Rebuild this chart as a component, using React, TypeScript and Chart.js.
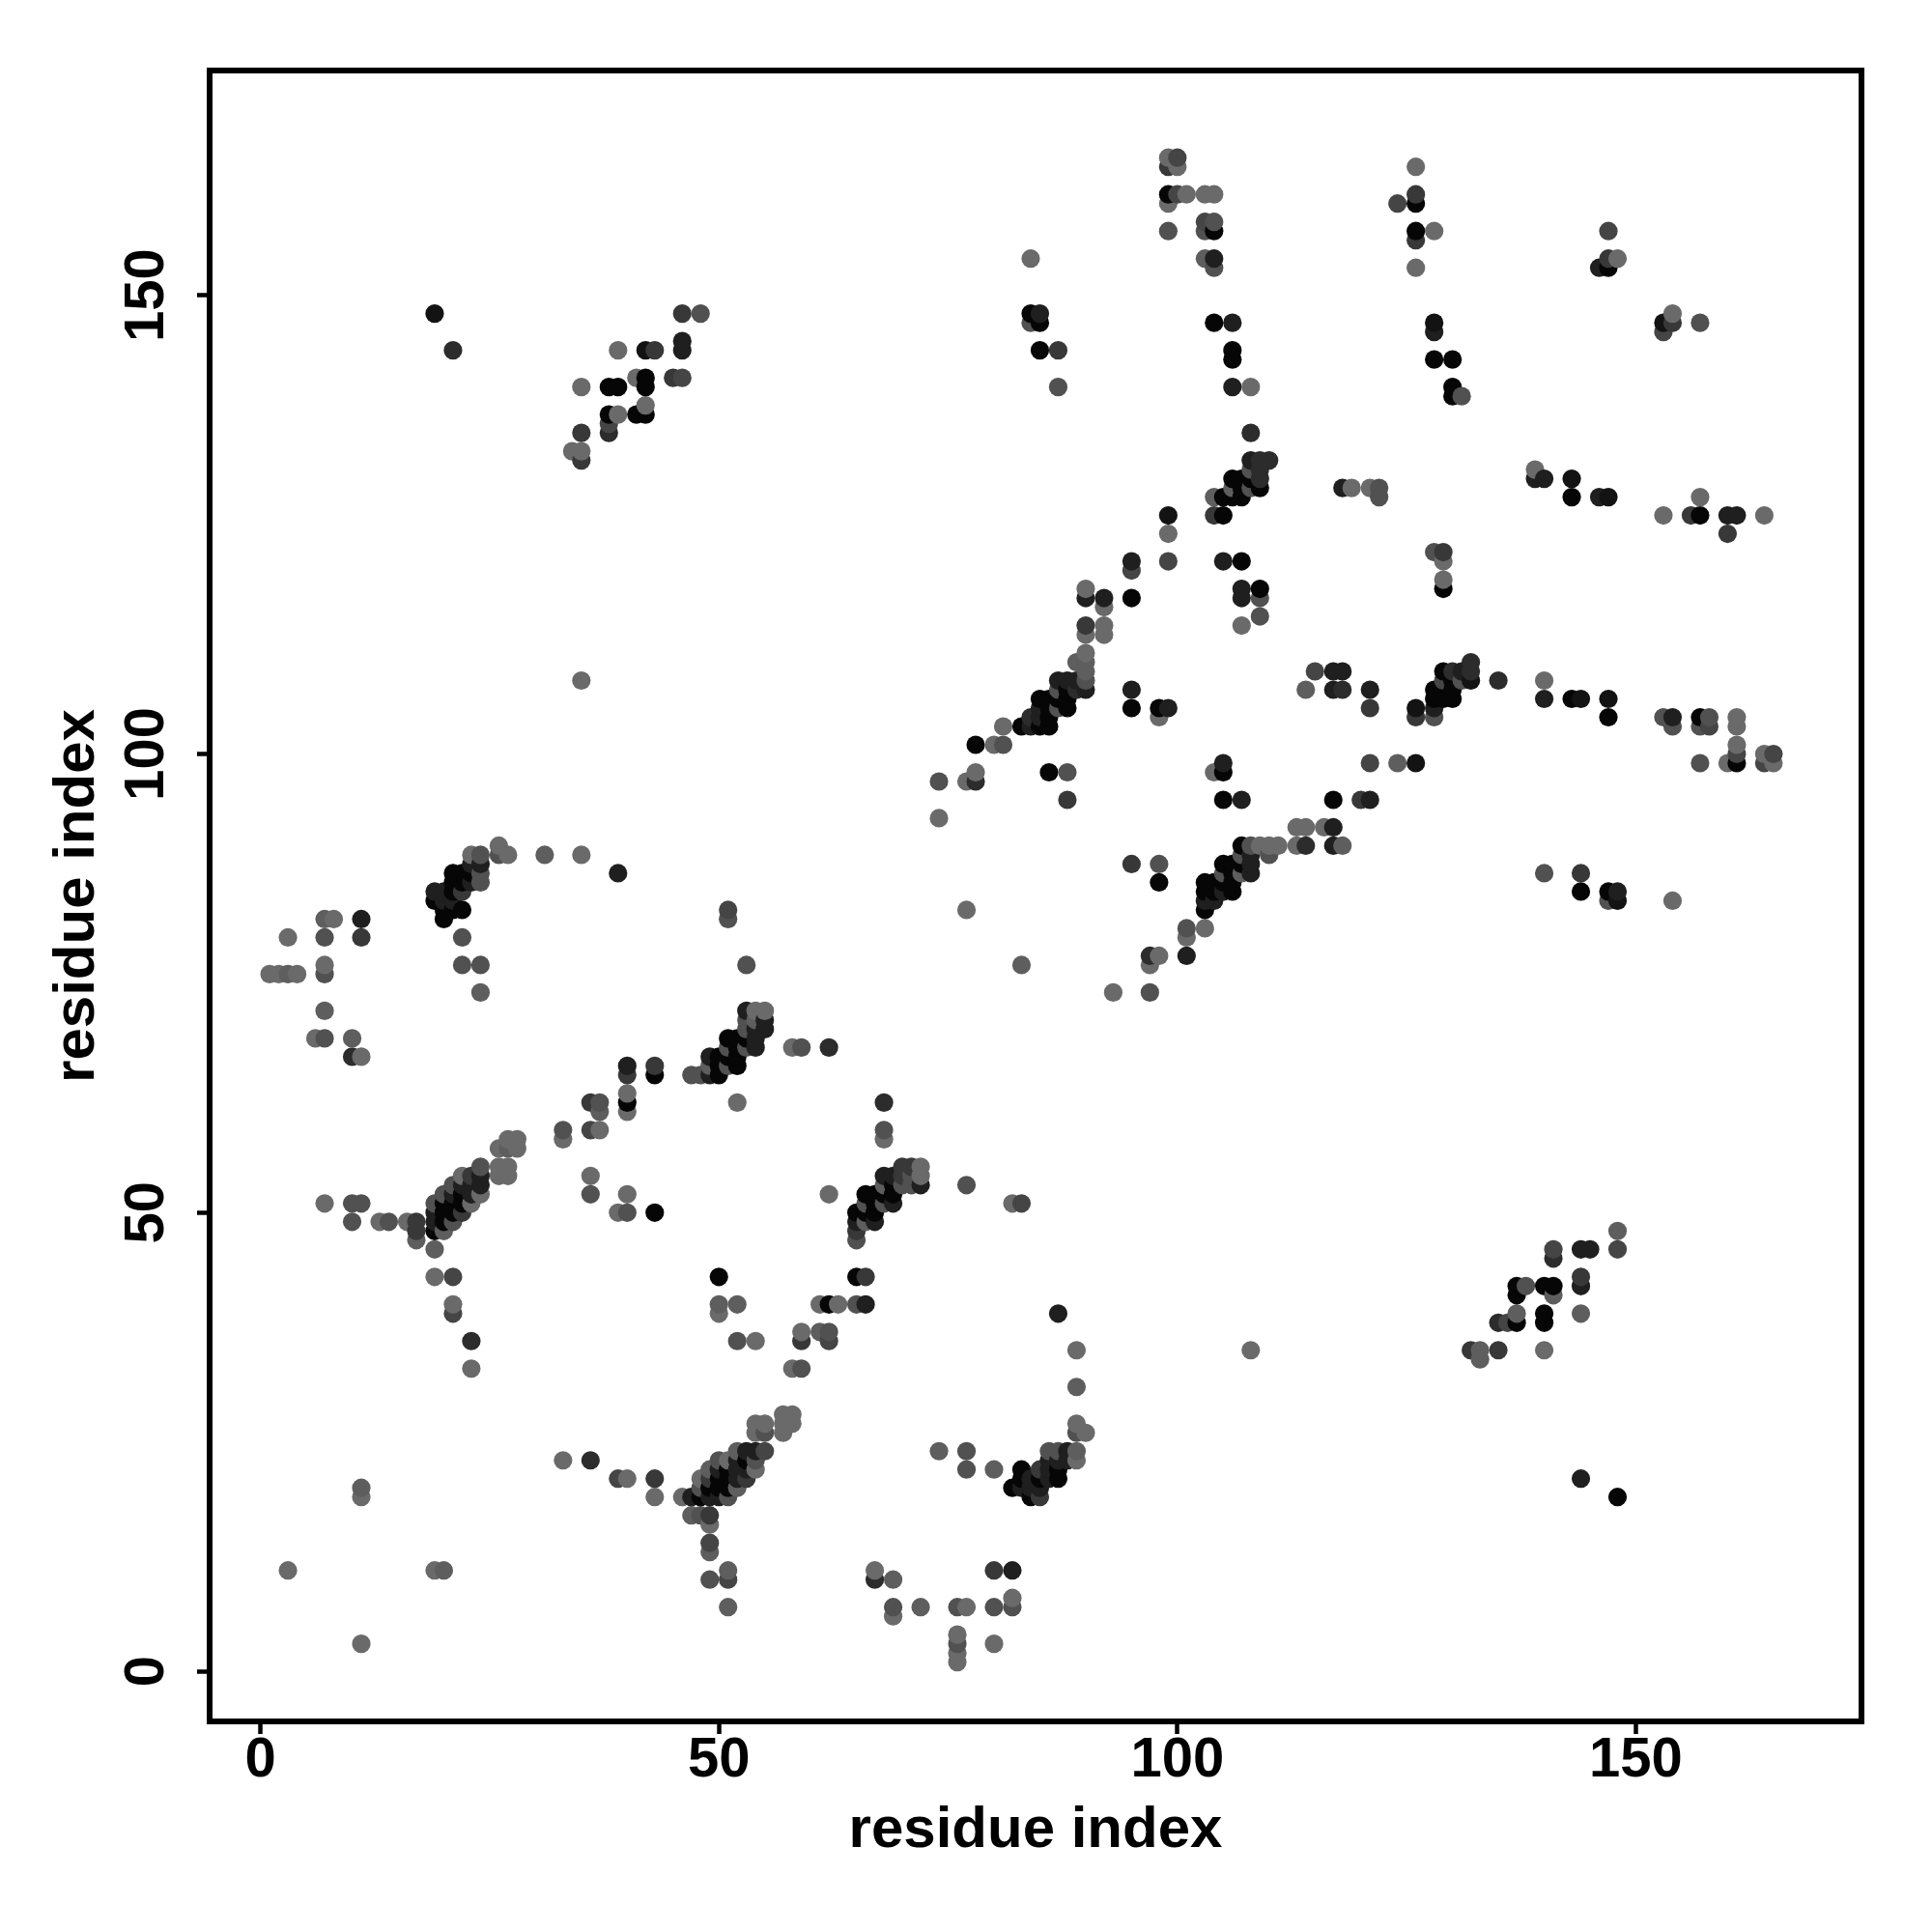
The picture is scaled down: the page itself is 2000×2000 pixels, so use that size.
import React, { useEffect, useRef } from "react";
import { Chart, registerables } from "chart.js";

Chart.register(...registerables);

// Each contact: [residue i, residue j, weight]; weight 0 is strongest (darkest), 8 weakest.
type Contact = [number, number, number];

const tickValues = [0, 50, 100, 150];
const axisTitle = "residue index";

const scatteredLowLeft: Contact[] = [
  [7,51,8],[10,51,6],[11,51,6],[10,49,6],[13,49,8],[14,49,6],[16,49,8],[17,49,4],[17,48,4],[17,47,7],
  [19,46,7],[19,43,8],[21,43,5],[21,40,8],[21,39,5],[23,36,3],[23,33,8],[11,20,7],[11,19,8],[3,11,8],
  [19,11,8],[20,11,7],[11,3,8],
];
const helixA: Contact[] = [
  [19,51,6],[19,50,2],[19,49,2],[19,48,0],[20,52,6],[20,51,0],[20,50,0],[20,49,0],[20,48,7],
  [21,53,6],[21,52,2],[21,51,0],[21,50,0],[21,49,6],[22,54,8],[22,53,2],[22,52,0],[22,51,0],[22,50,4],
  [23,54,4],[23,53,2],[23,52,2],[23,51,8],[24,55,6],[24,54,2],[24,53,2],[24,52,8],
  [26,55,8],[27,55,8],[26,54,8],[27,54,8],[26,57,8],[27,58,8],[28,58,8],[27,57,7],[28,57,8],
];
const linkAB: Contact[] = [
  [33,59,6],[33,58,8],[36,62,4],[37,62,6],[37,61,7],[36,59,5],[37,59,8],[36,54,8],[36,52,6],
  [39,50,8],[40,52,8],[40,50,6],[43,50,0],[40,66,2],[40,65,4],[40,63,8],[40,62,0],[40,61,8],[43,66,4],[43,65,0],
];
const helixB: Contact[] = [
  [47,65,6],[48,65,6],[49,67,2],[49,66,7],[49,65,2],[50,67,0],[50,66,0],[50,65,0],[51,69,0],[51,68,6],
  [51,67,0],[51,66,6],[52,69,0],[52,68,0],[52,67,0],[52,66,0],[53,72,2],[53,71,6],[53,70,6],[53,69,0],
  [53,68,6],[54,72,8],[54,71,7],[54,70,2],[54,69,2],[54,68,2],[55,72,8],[55,71,2],[55,70,2],
  [52,62,8],[58,68,8],[59,68,6],[62,68,3],[53,77,6],[51,83,5],[51,82,6],
];
const upperLeftHelix: Contact[] = [
  [26,90,8],[26,89,6],[27,89,8],[23,89,8],[24,89,6],[24,88,2],[24,87,6],[24,86,6],[23,88,2],[23,87,0],
  [23,86,2],[21,87,0],[22,87,0],[21,86,0],[22,86,0],[22,85,4],[21,85,0],[19,85,2],[20,85,2],[19,84,0],
  [20,84,2],[21,84,2],[20,83,0],[21,83,0],[22,83,0],[20,82,0],[31,89,7],[35,89,8],[39,87,2],[22,80,6],
  [22,77,6],[24,77,6],[24,74,7],
];
const farLeft: Contact[] = [
  [7,82,7],[8,82,8],[11,82,2],[3,80,8],[7,80,6],[11,80,4],[1,76,8],[2,76,8],[3,76,7],[4,76,8],
  [7,77,8],[7,76,6],[7,72,7],[6,69,8],[7,69,6],[10,69,7],[10,67,3],[11,67,8],
];
const bottomMiddle: Contact[] = [
  [33,23,8],[36,23,3],[39,21,5],[40,21,8],[43,21,4],[43,19,8],[46,19,8],[47,19,2],[48,19,0],[49,19,2],
  [50,19,2],[51,19,6],[47,17,7],[48,17,6],[49,17,4],[49,16,8],[49,14,5],[49,13,7],[49,10,6],[51,11,7],
  [51,10,5],[51,7,7],[48,21,8],[48,20,6],[49,21,4],[49,20,0],[50,21,0],[50,20,0],[51,20,0],[52,20,7],
  [49,22,7],[50,23,6],[50,22,2],[51,22,0],[51,21,0],[52,21,2],[53,21,4],[51,23,8],[52,24,7],[52,23,2],
  [52,22,2],[53,24,2],[53,23,0],[53,22,2],[54,24,2],[54,23,6],[54,22,8],[55,24,5],[54,27,8],[55,27,8],
  [54,26,8],[55,26,6],[57,26,8],[57,28,8],[58,28,8],[57,27,8],[58,27,8],
];
const middleBand: Contact[] = [
  [50,43,0],[50,40,7],[52,40,7],[50,39,8],[52,36,6],[54,36,8],[59,37,8],[59,36,4],[61,37,7],[62,37,6],
  [62,36,5],[58,33,8],[59,33,6],[61,40,8],[62,40,0],[63,40,8],[65,40,6],[66,40,2],[65,43,0],[66,43,4],
  [68,62,3],[68,59,6],[68,58,8],[62,52,8],[77,53,6],[82,51,8],[83,51,5],
];
const helixC: Contact[] = [
  [72,55,8],[72,54,8],[72,53,2],[70,55,4],[71,55,4],[68,54,2],[69,54,2],[70,54,4],[71,54,6],[68,53,7],
  [69,53,0],[70,53,6],[71,53,6],[66,52,0],[67,52,0],[68,52,0],[69,52,0],[66,51,6],[67,51,0],[68,51,6],
  [69,51,2],[65,50,0],[66,50,0],[67,50,0],[65,49,2],[66,49,7],[67,49,2],[65,48,4],[65,47,6],
];
const turnNearBottom: Contact[] = [
  [87,39,2],[89,35,8],[89,31,7],[89,27,8],[89,26,6],[90,26,8],[89,24,7],[89,23,8],[74,24,7],[77,24,6],
  [77,22,6],[80,22,7],[83,22,0],[82,20,0],[83,21,0],[83,20,2],[84,19,0],[85,19,4],[85,20,2],[84,20,2],
  [84,21,2],[85,22,4],[85,21,0],[86,21,2],[87,21,0],[86,24,6],[87,24,6],[88,24,2],[86,23,2],[87,23,2],
  [88,23,2],[86,22,2],[87,22,0],[67,11,8],[67,10,3],[69,10,7],[69,7,6],[69,6,8],[72,7,7],[76,7,6],
  [77,7,8],[76,4,8],[76,3,6],[76,2,8],[76,1,8],[80,11,4],[82,11,2],[80,7,6],[82,7,6],[82,8,8],[80,3,8],
];
const lowerRight: Contact[] = [
  [148,48,7],[148,46,5],[141,46,5],[141,45,3],[144,46,2],[145,46,2],[144,43,4],[144,42,2],[137,42,0],
  [137,41,0],[138,42,6],[140,42,0],[141,42,0],[141,41,7],[140,39,0],[140,38,0],[137,39,7],[137,38,0],
  [135,38,3],[136,38,5],[144,39,7],[132,35,4],[133,35,7],[133,34,7],[135,35,4],[140,35,8],[144,21,2],
  [148,19,0],[108,35,8],
];
const helixD: Contact[] = [
  [88,98,6],[86,98,0],[88,95,4],[104,98,8],[105,98,0],[105,99,2],[105,95,0],[107,95,2],[121,99,5],
  [124,99,7],[126,99,1],[117,95,0],[120,95,4],[121,95,2],[113,92,8],[114,92,8],[116,92,8],[117,92,2],
  [113,90,8],[114,90,3],[117,90,2],[118,90,7],[111,90,8],[110,90,8],[109,90,8],[108,90,6],[107,90,0],
  [110,89,6],[108,89,2],[107,89,6],[108,88,2],[108,87,2],[107,88,0],[107,87,7],[105,88,0],[106,88,0],
  [105,87,6],[106,87,0],[106,86,0],[106,85,0],[105,86,0],[105,85,2],[103,86,0],[104,86,0],[103,85,0],
  [104,85,0],[103,84,2],[104,84,2],[103,83,0],[101,81,6],[103,81,8],[101,80,8],[101,78,2],[97,78,3],
  [98,78,8],[97,77,8],[95,88,4],[98,88,6],[98,86,0],[83,77,7],[93,74,8],[97,74,6],
];
const helixE: Contact[] = [
  [108,135,3],[108,132,2],[109,132,3],[110,132,3],[108,131,6],[109,131,3],[109,130,3],[109,129,0],
  [108,129,6],[106,130,0],[107,130,0],[108,130,0],[106,129,7],[107,129,0],[104,128,7],[105,128,0],
  [106,128,0],[107,128,0],[104,126,4],[105,126,0],[99,126,1],[99,124,8],[99,121,5],[105,121,2],[107,121,0],
  [95,121,2],[95,120,5],[95,117,0],[90,118,8],[90,117,2],[92,117,2],[92,116,8],[90,114,4],[90,113,8],
  [92,114,8],[92,113,8],[107,118,2],[107,117,2],[109,118,0],[109,117,6],[109,115,6],[107,114,8],
];
const helixF: Contact[] = [
  [90,111,8],[90,110,7],[90,109,7],[89,110,7],[90,108,6],[90,107,2],[87,108,2],[88,108,2],[89,108,2],
  [87,107,6],[88,107,0],[89,107,3],[85,106,0],[86,106,0],[87,106,0],[88,106,0],[86,105,0],[87,105,6],
  [88,105,0],[85,105,2],[84,104,3],[85,104,2],[86,104,0],[83,103,0],[84,103,2],[85,103,0],[86,103,0],
  [81,103,8],[78,101,0],[80,101,8],[81,101,6],[95,107,2],[95,105,0],[98,105,0],[99,105,2],[98,104,8],
  [74,97,6],[74,93,8],[77,83,8],[77,97,8],[78,97,3],[78,98,8],
];
const helixG: Contact[] = [
  [132,110,3],[132,109,3],[132,108,1],[131,109,2],[131,108,6],[129,109,0],[130,109,3],[129,108,5],
  [130,108,0],[128,107,0],[129,107,0],[130,107,0],[130,106,0],[129,106,0],[128,106,0],[128,105,2],
  [128,104,6],[126,105,1],[126,104,4],[135,108,3],[115,109,5],[114,107,7],[117,109,2],[118,109,2],
  [117,107,2],[118,107,3],[121,107,2],[121,105,4],
];
const rightBand: Contact[] = [
  [140,108,8],[140,106,2],[143,106,0],[144,106,1],[147,106,1],[147,104,0],[153,104,6],[154,104,2],
  [154,103,6],[157,104,0],[158,104,6],[157,103,6],[158,103,5],[161,104,8],[161,103,8],[161,101,8],
  [161,100,5],[161,99,0],[157,99,6],[160,99,8],[164,100,8],[165,100,5],[164,99,5],[165,99,8],
  [140,87,6],[144,87,4],[144,85,0],[147,85,0],[147,84,6],[148,85,2],[148,84,1],[154,84,8],
];
const upperRight: Contact[] = [
  [118,129,2],[119,129,8],[121,129,8],[122,129,6],[122,128,6],[128,122,6],[129,122,4],[129,121,8],
  [129,119,8],[129,118,0],[139,131,8],[139,130,2],[140,130,2],[143,130,1],[143,128,0],[146,128,2],
  [147,128,1],[153,126,8],[156,126,4],[157,128,8],[157,126,0],[160,126,2],[161,126,2],[160,124,4],[164,126,8],
  [153,147,1],[154,147,4],[153,146,5],[154,148,8],[157,147,6],[146,153,2],[147,153,0],[147,154,4],
  [148,154,8],[147,157,5],
];
const topColumns: Contact[] = [
  [99,165,8],[100,165,5],[99,164,4],[100,164,8],[99,161,0],[100,161,5],[101,161,8],[103,161,8],[104,161,8],
  [99,160,8],[99,157,6],[103,158,5],[104,158,6],[103,157,6],[104,157,0],[103,154,7],[104,154,2],[104,153,6],
  [104,147,0],[106,147,2],[106,144,0],[106,143,0],[106,140,2],[108,140,8],[126,164,8],[126,161,4],[126,160,0],
  [124,160,5],[126,157,0],[126,156,4],[128,157,8],[126,153,8],[128,147,1],[128,146,2],[128,143,0],[130,143,0],
  [130,140,0],[130,139,0],[131,139,6],[84,154,8],[84,148,0],[85,148,2],[84,147,6],[85,147,0],[85,144,0],
  [87,144,4],[87,140,6],
];
const upperLeftStrand: Contact[] = [
  [19,148,1],[21,144,3],[46,148,4],[48,148,6],[46,145,2],[46,144,2],[39,144,8],[42,144,1],[43,144,4],
  [45,141,4],[46,141,5],[41,141,8],[42,141,0],[42,140,0],[38,140,0],[39,140,0],[35,140,8],[42,138,8],
  [38,137,0],[39,137,8],[41,137,0],[42,137,0],[38,136,5],[38,135,3],[35,135,4],[34,133,8],[35,133,8],
  [35,132,4],[35,108,8],
];

const contactGroups = [
  scatteredLowLeft, helixA, linkAB, helixB, upperLeftHelix, farLeft, bottomMiddle, middleBand, helixC,
  turnNearBottom, lowerRight, helixD, helixE, helixF, helixG, rightBand, upperRight, topColumns, upperLeftStrand,
];

const PLOT = { left: 217, right: 1927, top: 73, bottom: 1782 };
const LINE = 6;

const framePlugin = {
  id: "frame",
  afterDatasetsDraw(chart: Chart) {
    const { ctx, chartArea: a } = chart;
    ctx.save();
    ctx.strokeStyle = "#000";
    ctx.lineWidth = LINE;
    ctx.lineJoin = "miter";
    ctx.strokeRect(a.left, a.top, a.right - a.left, a.bottom - a.top);
    ctx.restore();
  },
};

export default function App() {
  const ref = useRef<HTMLCanvasElement>(null);
  useEffect(() => {
    if (!ref.current) return;
    const contacts = contactGroups
      .flat()
      .slice()
      .sort((p, q) => p[0] - q[0] || p[1] - q[1]);
    const colors = contacts.map((c) => {
      const g = Math.round(6 + 12.5 * c[2]);
      return `rgb(${g},${g},${g})`;
    });
    const family = "'Liberation Sans', Arial, sans-serif";
    const setTicks = (axis: any) => {
      axis.ticks = tickValues.map((value) => ({ value }));
    };
    const chart = new Chart(ref.current, {
      type: "scatter",
      data: {
        datasets: [
          {
            data: contacts.map((c) => ({ x: c[0], y: c[1] })),
            pointBackgroundColor: colors,
            pointBorderWidth: 0,
            pointRadius: 9.6,
          },
        ],
      },
      options: {
        responsive: false,
        animation: false,
        devicePixelRatio: 1,
        layout: { padding: { top: PLOT.top, right: 2000 - PLOT.right, left: 0, bottom: 0 } },
        plugins: { legend: { display: false }, tooltip: { enabled: false } },
        scales: {
          x: {
            type: "linear",
            min: -5.54,
            max: 174.6,
            afterFit: (s: any) => {
              s.height = 2000 - PLOT.bottom;
            },
            afterBuildTicks: setTicks,
            grid: { drawOnChartArea: false, drawTicks: true, tickLength: 13, tickWidth: 4.5, tickColor: "#000" },
            border: { display: false },
            ticks: {
              color: "#000",
              padding: -7,
              maxRotation: 0,
              autoSkip: false,
              font: { family, size: 58, weight: "bold" },
            },
            title: {
              display: true,
              text: axisTitle,
              color: "#000",
              font: { family, size: 60, weight: "bold" },
              padding: { top: 0, bottom: 69 },
            },
          },
          y: {
            type: "linear",
            min: -5.46,
            max: 174.5,
            afterFit: (s: any) => {
              s.width = PLOT.left;
            },
            afterBuildTicks: setTicks,
            grid: { drawOnChartArea: false, drawTicks: true, tickLength: 13, tickWidth: 4.5, tickColor: "#000" },
            border: { display: false },
            ticks: {
              color: "#000",
              padding: 3,
              minRotation: 90,
              maxRotation: 90,
              crossAlign: "center",
              autoSkip: false,
              font: { family, size: 58, weight: "bold" },
            },
            title: {
              display: true,
              text: axisTitle,
              color: "#000",
              font: { family, size: 60, weight: "bold" },
              padding: { top: 44, bottom: 44 },
            },
          },
        },
      },
      plugins: [framePlugin],
    } as any);
    return () => chart.destroy();
  }, []);
  return (
    <canvas
      ref={ref}
      width={2000}
      height={2000}
      style={{ position: "absolute", left: 0, top: 0, display: "block", background: "#fff" }}
    />
  );
}
